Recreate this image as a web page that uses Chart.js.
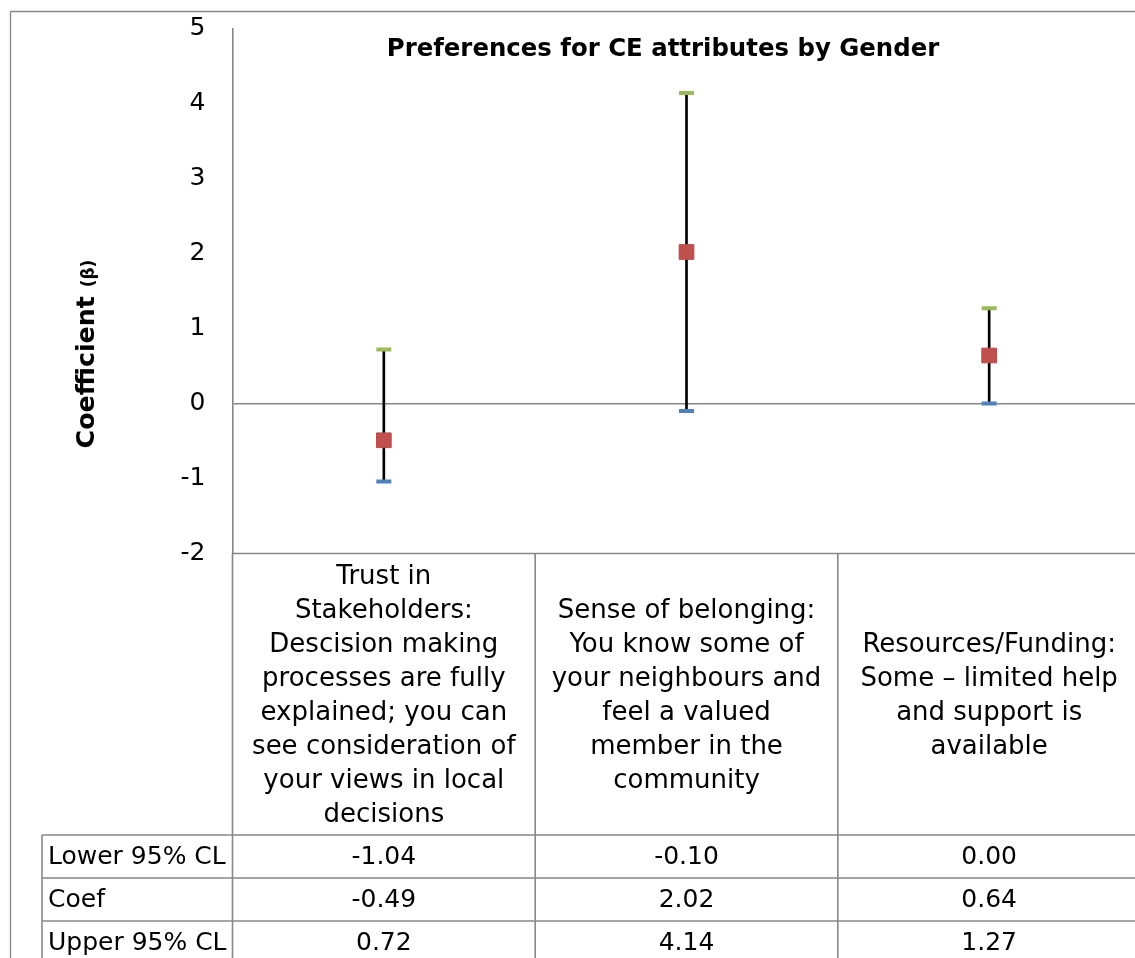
<!DOCTYPE html>
<html>
<head>
<meta charset="utf-8">
<script src="https://cdn.jsdelivr.net/npm/chart.js@4.4.0/dist/chart.umd.min.js"></script>
<style>
html,body{margin:0;padding:0;background:#fff;overflow:hidden;width:1135px;height:958px;}
#wrap{position:absolute;left:0;top:0;width:1152px;height:958px;}
#c{display:block;width:1152px;height:958px;}
#chartTitle{position:absolute;left:0;top:33px;width:1326px;line-height:30px;text-align:center;font-family:"DejaVu Sans";font-weight:bold;font-size:24.4px;color:#000;white-space:nowrap;}
#yTitle{position:absolute;left:-64px;top:339px;width:300px;height:30px;line-height:30px;text-align:center;transform:rotate(-90deg);font-family:"DejaVu Sans";font-weight:bold;font-size:25.3px;color:#000;white-space:nowrap;}
#yTitle span{font-size:17px;}
</style>
</head>
<body>
<div id="wrap"><canvas id="c" width="1152" height="958"></canvas></div>
<div id="chartTitle"></div>
<div id="yTitle"></div>
<script>
// ---- data ----
const chartTitle = "Preferences for CE attributes by Gender";
const yAxisTitle = "Coefficient";
const yAxisSymbol = "(β)";
const categories = [
  ["Trust in", "Stakeholders:", "Descision making", "processes are fully", "explained; you can", "see consideration of", "your views in local", "decisions"],
  ["Sense of belonging:", "You know some of", "your neighbours and", "feel a valued", "member in the", "community"],
  ["Resources/Funding:", "Some – limited help", "and support is", "available"]
];
const lowerCL = [-1.04, -0.10, 0.00];
const coef = [-0.49, 2.02, 0.64];
const upperCL = [0.72, 4.14, 1.27];
const rowLabels = ["Lower 95% CL", "Coef", "Upper 95% CL"];
const yMin = -2, yMax = 5, yStep = 1;

document.getElementById('chartTitle').textContent = chartTitle;
const yt = document.getElementById('yTitle');
yt.textContent = yAxisTitle + ' ';
const sp = document.createElement('span'); sp.textContent = yAxisSymbol; yt.appendChild(sp);

const GRAY = '#878787';
const FONT = "'DejaVu Sans'";
Chart.defaults.font.family = FONT;
Chart.defaults.color = '#000';

const tablePlugin = {
  id: 'dataTable',
  afterDraw(chart) {
    const {ctx, chartArea: a, scales: {x}} = chart;
    const n = categories.length;
    const half = (x.getPixelForValue(1) - x.getPixelForValue(0)) / 2;
    const bounds = [a.left];
    for (let i = 0; i < n; i++) bounds.push(x.getPixelForValue(i) + half);
    const headBottom = 835, rowH = 43, labelLeft = 42, farRight = 1300, farBottom = 1100;
    const line = (x1, y1, x2, y2) => { ctx.beginPath(); ctx.moveTo(x1, y1); ctx.lineTo(x2, y2); ctx.stroke(); };
    ctx.save();
    ctx.strokeStyle = GRAY;
    // outer chart border
    ctx.lineWidth = 1.3;
    line(10.5, 11.5, farRight, 11.5);
    line(10.5, 11.5, 10.5, farBottom);
    ctx.lineWidth = 1.6;
    // header top
    line(a.left, a.bottom, farRight, a.bottom);
    // column lines
    bounds.forEach(b => line(b, a.bottom, b, farBottom));
    // row lines
    for (let r = 0; r <= rowLabels.length; r++) {
      const y = headBottom + r * rowH;
      line(labelLeft, y, farRight, y);
    }
    line(labelLeft, headBottom, labelLeft, farBottom);
    // text
    ctx.fillStyle = '#000';
    ctx.font = '25px ' + FONT;
    ctx.textBaseline = 'middle';
    [lowerCL, coef, upperCL].forEach((vals, r) => {
      const cy = headBottom + r * rowH + rowH / 2 + 1;
      ctx.textAlign = 'left';
      ctx.fillText(rowLabels[r], 48, cy);
      ctx.textAlign = 'center';
      vals.forEach((v, i) => ctx.fillText(v.toFixed(2), x.getPixelForValue(i), cy));
    });
    ctx.restore();
  }
};

new Chart(document.getElementById('c'), {
  data: {
    labels: categories,
    datasets: [
      {
        type: 'bar',
        data: categories.map((_, i) => [lowerCL[i], upperCL[i]]),
        backgroundColor: '#000',
        barThickness: 2,
        order: 4
      },
      {
        type: 'line',
        data: lowerCL,
        showLine: false,
        pointStyle: 'line',
        pointRadius: 7.5,
        pointBorderWidth: 4,
        borderColor: '#4F81BD',
        pointBorderColor: '#4F81BD',
        order: 3
      },
      {
        type: 'line',
        data: upperCL,
        showLine: false,
        pointStyle: 'line',
        pointRadius: 7.5,
        pointBorderWidth: 4,
        borderColor: '#9BBB59',
        pointBorderColor: '#9BBB59',
        order: 2
      },
      {
        type: 'line',
        data: coef,
        showLine: false,
        pointStyle: 'rect',
        pointRadius: 10.4,
        pointBorderWidth: 1,
        pointBackgroundColor: '#C0504D',
        pointBorderColor: '#B94A47',
        borderColor: '#C0504D',
        order: 1
      }
    ]
  },
  options: {
    responsive: false,
    maintainAspectRatio: false,
    devicePixelRatio: 1,
    animation: false,
    events: [],
    layout: {padding: {top: 28.5, left: 0, right: 0, bottom: 0}},
    plugins: {legend: {display: false}, tooltip: {enabled: false}, title: {display: false}},
    scales: {
      x: {
        type: 'category',
        offset: true,
        grid: {display: false, drawTicks: false},
        border: {display: false},
        ticks: {
          autoSkip: false, maxRotation: 0, minRotation: 0,
          crossAlign: 'center',
          padding: 23.5,
          color: '#000',
          font: {size: 26, lineHeight: '34px'}
        },
        afterFit(s) { s.height = 958 - 553.5; s.paddingLeft = 0; s.paddingRight = 0; s.paddingTop = 0; s.paddingBottom = 0; }
      },
      y: {
        min: yMin, max: yMax,
        ticks: {stepSize: yStep, padding: 27, color: '#000', font: {size: 25}},
        grid: {
          drawTicks: false,
          lineWidth: 1.6,
          color: c => (c.tick && c.tick.value === 0) ? GRAY : 'rgba(0,0,0,0)'
        },
        border: {display: true, color: GRAY, width: 1.6},
        afterFit(s) { s.width = 232.5; s.paddingTop = 0; s.paddingBottom = 0; s.paddingLeft = 0; s.paddingRight = 0; }
      }
    }
  },
  plugins: [tablePlugin]
});
</script>
</body>
</html>
